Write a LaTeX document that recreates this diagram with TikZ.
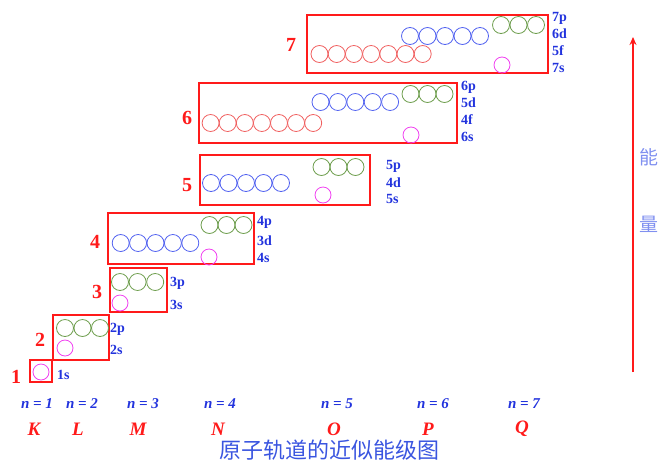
\documentclass[tikz,border=0pt]{standalone}
\usepackage{fontspec}
\setmainfont{Liberation Serif}
\newfontfamily\cjk{Noto Sans CJK SC}
\usetikzlibrary{arrows.meta}
\definecolor{boxred}{HTML}{FF1A1A}
\definecolor{pgreen}{HTML}{6E9E4E}
\definecolor{dblue}{HTML}{5262F0}
\definecolor{fred}{HTML}{F06060}
\definecolor{smag}{HTML}{F040F0}
\definecolor{lblue}{HTML}{2233DD}
\definecolor{tblue}{HTML}{3A55E0}
\definecolor{eblue}{HTML}{8090F0}
\begin{document}
\begin{tikzpicture}[x=1pt,y=-1pt,
  orb/.style={circle,draw,line width=0.8pt,minimum size=17pt,inner sep=0pt},
  porb/.style={orb,draw=pgreen},
  dorb/.style={orb,draw=dblue},
  forb/.style={orb,draw=fred},
  sorb/.style={orb,draw=smag,minimum size=16pt},
  shell/.style={draw=boxred,line width=1.7pt,inner sep=0pt},
  lvl/.style={text=lblue,font=\bfseries\fontsize{14}{14}\selectfont,anchor=west,inner sep=0pt},
  num/.style={text=boxred,font=\bfseries\fontsize{20}{20}\selectfont,inner sep=0pt},
  nlab/.style={text=lblue,font=\bfseries\itshape\fontsize{15}{15}\selectfont,inner sep=0pt},
  klab/.style={text=boxred,font=\bfseries\itshape\fontsize{19}{19}\selectfont,inner sep=0pt}]
\useasboundingbox (0,0) rectangle (660,461);

% shell boxes
\node[shell,minimum width=22pt,minimum height=22pt] (b1) at (41,371) {};
\node[shell,minimum width=56pt,minimum height=45pt] (b2) at (81,337.5) {};
\node[shell,minimum width=57pt,minimum height=44pt] (b3) at (138.5,290) {};
\node[shell,minimum width=146pt,minimum height=51pt] (b4) at (181,238.5) {};
\node[shell,minimum width=170pt,minimum height=50pt] (b5) at (285,180) {};
\node[shell,minimum width=258pt,minimum height=60pt] (b6) at (328,113) {};
\node[shell,minimum width=241pt,minimum height=58pt] (b7) at (427.5,44) {};

% shell numbers
\node[num] (n1) at (16,377) {1};
\node[num] (n2) at (40,340) {2};
\node[num] (n3) at (97,292) {3};
\node[num] (n4) at (95,242) {4};
\node[num] (n5) at (187,185) {5};
\node[num] (n6) at (187,118) {6};
\node[num] (n7) at (291,45) {7};

% shell 1
\node[sorb] (s1) at (41,372) {};
\node[lvl] (l1s) at (57,375) {1s};
% shell 2
\foreach \i in {0,1,2} \node[porb] (p2-\i) at ({65+17.5*\i},328) {};
\node[sorb] (s2) at (65,348) {};
\node[lvl] (l2p) at (110,329) {2p};
\node[lvl] (l2s) at (110,350) {2s};
% shell 3
\foreach \i in {0,1,2} \node[porb] (p3-\i) at ({120+17.6*\i},282) {};
\node[sorb] (s3) at (120,303) {};
\node[lvl] (l3p) at (170,283) {3p};
\node[lvl] (l3s) at (170,305) {3s};
% shell 4
\foreach \i in {0,...,4} \node[dorb] (d4-\i) at ({120.7+17.4*\i},243) {};
\foreach \i in {0,1,2} \node[porb] (p4-\i) at ({209.5+17*\i},225) {};
\node[sorb] (s4) at (209,257) {};
\node[lvl] (l4p) at (257,222) {4p};
\node[lvl] (l4d) at (257,241) {3d};
\node[lvl] (l4s) at (257,258) {4s};
% shell 5
\foreach \i in {0,...,4} \node[dorb] (d5-\i) at ({211+17.5*\i},183) {};
\foreach \i in {0,1,2} \node[porb] (p5-\i) at ({321.5+17*\i},167) {};
\node[sorb] (s5) at (323,195) {};
\node[lvl] (l5p) at (386,166) {5p};
\node[lvl] (l5d) at (386,183) {4d};
\node[lvl] (l5s) at (386,199) {5s};
% shell 6
\foreach \i in {0,...,6} \node[forb] (f6-\i) at ({210.6+17.1*\i},123) {};
\foreach \i in {0,...,4} \node[dorb] (d6-\i) at ({320.5+17.4*\i},102) {};
\foreach \i in {0,1,2} \node[porb] (p6-\i) at ({410.5+17*\i},94) {};
\node[sorb] (s6) at (411,135) {};
\node[lvl] (l6p) at (461,87) {6p};
\node[lvl] (l6d) at (461,103) {5d};
\node[lvl] (l6f) at (461,120) {4f};
\node[lvl] (l6s) at (461,137) {6s};
% shell 7
\foreach \i in {0,...,6} \node[forb] (f7-\i) at ({319.5+17.2*\i},54) {};
\foreach \i in {0,...,4} \node[dorb] (d7-\i) at ({410+17.5*\i},36) {};
\foreach \i in {0,1,2} \node[porb] (p7-\i) at ({501+17.5*\i},25) {};
\node[sorb] (s7) at (502,65) {};
\node[lvl] (l7p) at (552,18) {7p};
\node[lvl] (l7d) at (552,34) {6d};
\node[lvl] (l7f) at (552,51) {5f};
\node[lvl] (l7s) at (552,68) {7s};

% bottom labels
\foreach \x/\k [count=\j] in {37/1,82/2,143/3,220/4,337/5,433/6,524/7}
  \node[nlab] (nn\j) at (\x,404) {n = \k};
\foreach \x/\L [count=\j] in {34/K,78/L,138/M,218/N,334/O,428/P,522/Q}
  \node[klab] (kk\j) at (\x,429) {\L};
\node[text=tblue,font=\cjk\fontsize{22}{22}\selectfont,inner sep=0pt] (title) at (329,450) {原子轨道的近似能级图};

% energy arrow
\coordinate (ea) at (633,372);
\coordinate (eb) at (633,37);
\draw[boxred,line width=1.5pt,-{Stealth[length=8pt,width=7pt]}] (ea) -- (eb);
\node[text=eblue,font=\cjk\fontsize{19}{19}\selectfont,inner sep=0pt] (e1) at (649,157) {能};
\node[text=eblue,font=\cjk\fontsize{19}{19}\selectfont,inner sep=0pt] (e2) at (649,224) {量};
\end{tikzpicture}
\end{document}
